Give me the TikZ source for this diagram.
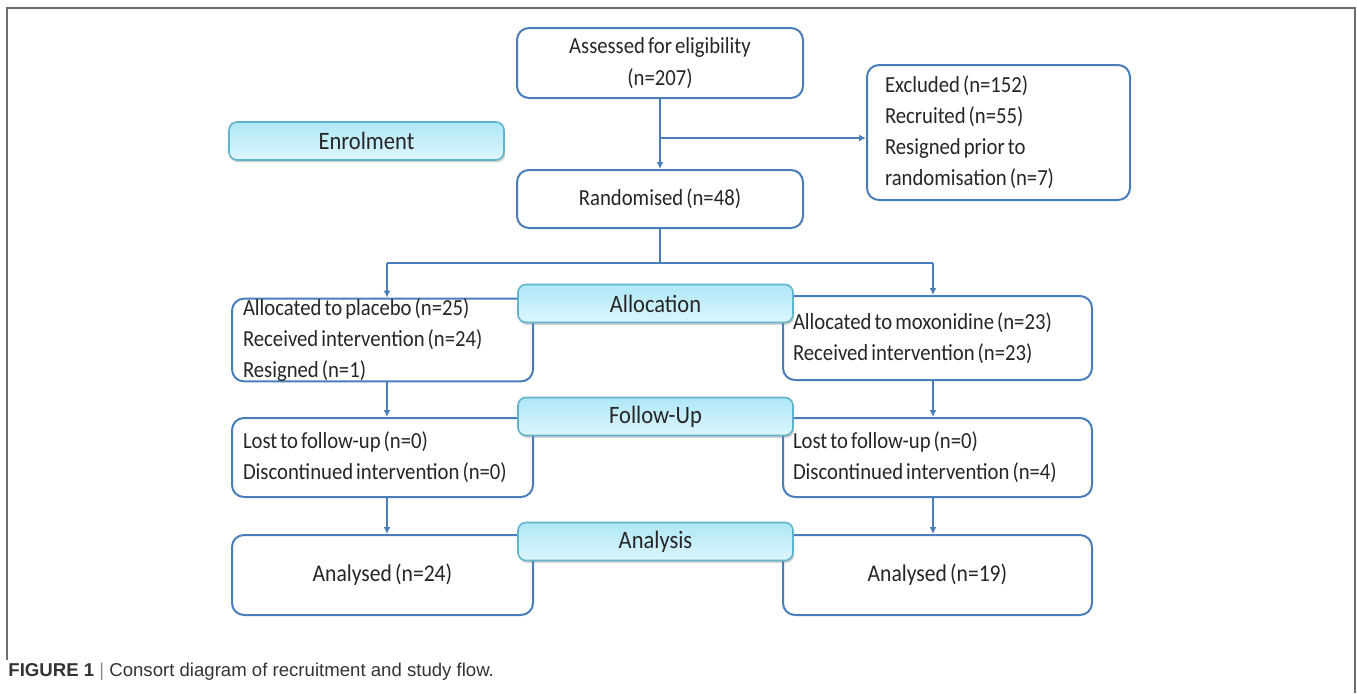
\documentclass[tikz,border=0pt]{standalone}
\usepackage{fontspec}
\setmainfont{Carlito}[FakeStretch=0.9, WordSpace=0.65]
\newfontfamily\capfont{Liberation Sans}
\usetikzlibrary{arrows.meta, shadows}

\definecolor{boxblue}{HTML}{4A7EBB}
\definecolor{stagetop}{HTML}{AEE7F7}
\definecolor{stagebot}{HTML}{DDF6FD}
\definecolor{stageedge}{HTML}{5FB3CB}
\definecolor{framegrey}{HTML}{6E6E6E}
\definecolor{captext}{HTML}{333333}

\tikzset{
  flowbox/.style={draw=boxblue, line width=1pt, rounded corners=6pt, fill=white,
    align=center, inner sep=0pt, font=\fontsize{11.5}{16}\selectfont, text=black!85},
  listbox/.style={flowbox, align=flush left, font=\fontsize{11.5}{15.5}\selectfont},
  stagebox/.style={draw=stageedge, line width=0.8pt, rounded corners=4pt,
    top color=stagetop, bottom color=stagebot, minimum width=137.5pt, minimum height=19pt,
    inner sep=0pt, font=\fontsize{12.5}{14}\selectfont, text=black!85,
    drop shadow={shadow xshift=0.6pt, shadow yshift=-1.2pt, opacity=0.35}},
  link/.style={draw=boxblue, line width=0.9pt, -{Latex[length=3.5pt, width=3.5pt]}}
}

\begin{document}
\begin{tikzpicture}[x=0.5pt, y=-0.5pt]
\useasboundingbox (0,0) rectangle (1357,693);
% frame
\draw[framegrey, line width=0.8pt] (7,660) -- (7,8) -- (1355,8) -- (1355,693);

% enrolment part
\node[flowbox, minimum width=143pt, minimum height=35pt] (assess) at (660,63) {Assessed for eligibility\\(n=207)};
\node[stagebox] (enrol) at (366.5,141) {Enrolment};
\node[flowbox, minimum width=143pt, minimum height=29pt] (random) at (660,199) {Randomised (n=48)};
\node[listbox, minimum width=131.5pt, minimum height=67.5pt, text width=113.5pt, inner xsep=9pt] (excl) at (998.5,132.5)
  {Excluded (n=152)\\Recruited (n=55)\\Resigned prior to\\randomisation (n=7)};
\coordinate (fork) at (660,138);
\draw[link] (assess) -- (random);
\draw[link] (fork) -- (fork -| excl.west);

% arms
\node[listbox, minimum width=150.5pt, minimum height=40pt, text width=139.5pt, inner xsep=5.5pt] (placebo) at (382.5,340)
  {Allocated to placebo (n=25)\\Received intervention (n=24)\\Resigned (n=1)};
\node[listbox, minimum width=154.5pt, minimum height=42pt, text width=144.5pt, inner xsep=5pt] (moxo) at (937.5,338)
  {Allocated to moxonidine (n=23)\\Received intervention (n=23)};
\node[listbox, minimum width=150.5pt, minimum height=39.5pt, text width=139.5pt, inner xsep=5.5pt] (lostL) at (382.5,457.5)
  {Lost to follow-up (n=0)\\Discontinued intervention (n=0)};
\node[listbox, minimum width=154.5pt, minimum height=39.5pt, text width=144.5pt, inner xsep=5pt] (lostR) at (937.5,457.5)
  {Lost to follow-up (n=0)\\Discontinued intervention (n=4)};
\node[flowbox, minimum width=150.5pt, minimum height=40pt, font=\fontsize{12}{14}\selectfont] (anaL) at (382.5,575) {Analysed (n=24)};
\node[flowbox, minimum width=154.5pt, minimum height=40pt, font=\fontsize{12}{14}\selectfont] (anaR) at (937.5,575) {Analysed (n=19)};

\coordinate (splitL) at (387,263);
\coordinate (splitR) at (933,263);
\draw[boxblue, line width=0.9pt] (random.south) -- (random.south |- splitL);
\draw[boxblue, line width=0.9pt] (splitL) -- (splitR);
\draw[link] (splitL) -- (splitL |- placebo.north);
\draw[link] (splitR) -- (splitR |- moxo.north);
\draw[link] (splitL |- placebo.south) -- (splitL |- lostL.north);
\draw[link] (splitR |- moxo.south) -- (splitR |- lostR.north);
\draw[link] (splitL |- lostL.south) -- (splitL |- anaL.north);
\draw[link] (splitR |- lostR.south) -- (splitR |- anaR.north);

% stage labels
\node[stagebox] (alloc) at (655.5,303.5) {Allocation};
\node[stagebox] (follow) at (655.5,416.5) {Follow-Up};
\node[stagebox] (analysis) at (655.5,541.5) {Analysis};

% caption
\node[anchor=west, inner sep=0pt, text=captext, font=\capfont\fontsize{9.3}{11}\selectfont] (caption) at (8,672)
  {\textbf{FIGURE 1} {\color{black!45}|} Consort diagram of recruitment and study flow.};
\end{tikzpicture}
\end{document}
